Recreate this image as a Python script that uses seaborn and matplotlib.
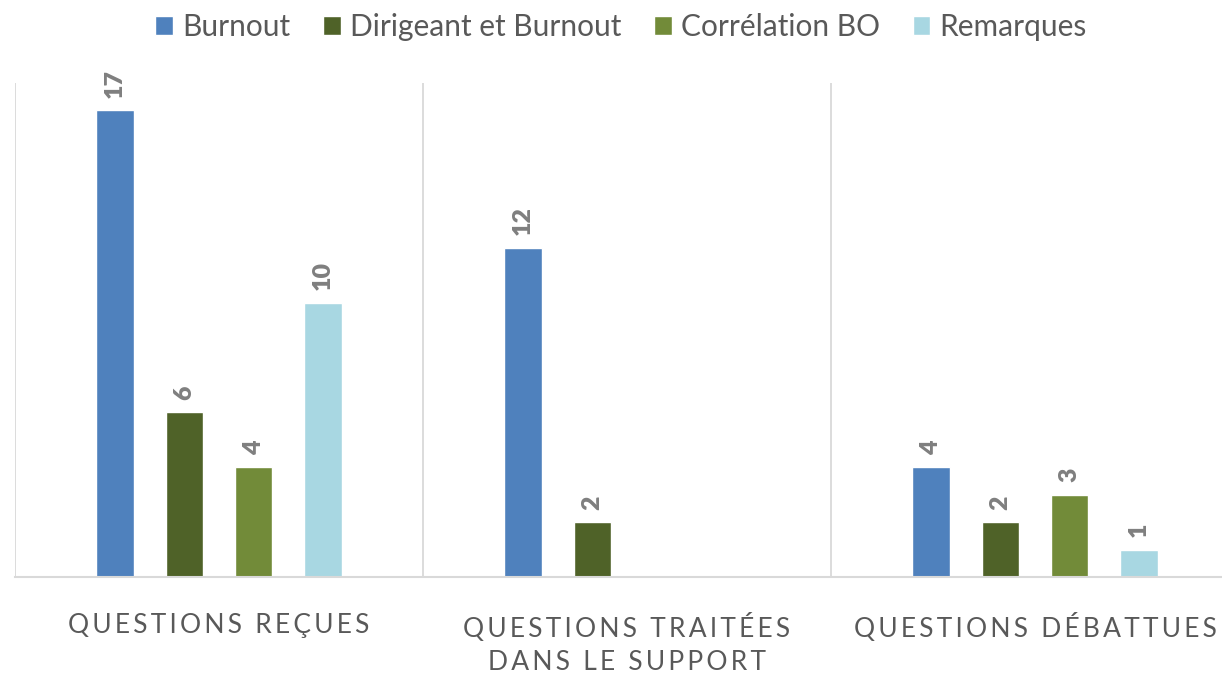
import pandas as pd
import seaborn as sns
import matplotlib.pyplot as plt

categories = ["QUESTIONS REÇUES", "QUESTIONS TRAITÉES\nDANS LE SUPPORT", "QUESTIONS DÉBATTUES"]
series = ["Burnout", "Dirigeant et Burnout", "Corrélation BO", "Remarques"]
burnout = [17, 12, 4]
dirigeant = [6, 2, 2]
correlation = [4, None, 3]
remarques = [10, None, 1]
colors = ["#4f81bd", "#4f6228", "#728b39", "#a8d7e2"]

rows = []
for name, vals in zip(series, [burnout, dirigeant, correlation, remarques]):
    for cat, v in zip(categories, vals):
        if v is not None:
            rows.append({"cat": cat, "serie": name, "val": v})
df = pd.DataFrame(rows)

sns.set_theme(style="white")
plt.rcParams["font.family"] = ["Lato", "DejaVu Sans"]

fig = plt.figure(figsize=(12.22, 6.73), dpi=100)
ax = fig.add_axes([15 / 1222, 96 / 673, 1224 / 1222, 494 / 673])

sns.barplot(data=df, x="cat", y="val", hue="serie", order=categories,
            hue_order=series, palette=colors, width=0.68, gap=0.46,
            saturation=1, ax=ax, legend=True)

for c in ax.containers:
    ax.bar_label(c, rotation=90, padding=9, color="#7f7f7f",
                 fontsize=18, fontweight="heavy")

ax.set_ylim(0, 18)
ax.set_xlim(-0.5, 2.5)
ax.set_yticks([])
ax.set_xlabel("")
ax.set_ylabel("")

# spaced capitals like the original
def spaced(s):
    return "\n".join("\u2009".join(line) for line in s.split("\n"))

ax.set_xticks(range(len(categories)))
ax.set_xticklabels([spaced(c) for c in categories], fontsize=19,
                   color="#595959", linespacing=1.4, va="top")
ax.tick_params(axis="x", length=0, pad=26)
ax.set_xticks([-0.5, 0.5, 1.5, 2.5], minor=True)
ax.tick_params(axis="x", which="minor", length=0)
ax.grid(False)
ax.grid(axis="x", which="minor", color="#d9d9d9", lw=1.3)
for s in ["top", "right", "left"]:
    ax.spines[s].set_visible(False)
ax.spines["bottom"].set_color("#d9d9d9")
ax.spines["bottom"].set_linewidth(1.5)

handles, labels = ax.get_legend_handles_labels()
ax.get_legend().remove()
fig.legend(handles, labels, loc="upper center", bbox_to_anchor=(0.508, 1.02),
           ncol=4, frameon=False, fontsize=21.5, handlelength=0.6,
           handleheight=0.6, handletextpad=0.3, columnspacing=1.1,
           labelcolor="#595959")

fig.savefig("out.png", dpi=100)
